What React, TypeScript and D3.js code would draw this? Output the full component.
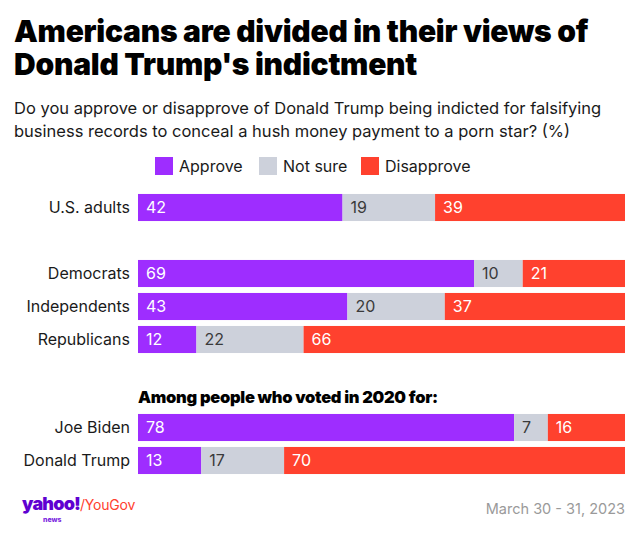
import React from "react";
import * as d3 from "d3";

const seriesNames = ["Approve", "Not sure", "Disapprove"];
const seriesColors = ["#9E2DFF", "#CDD1DB", "#FF412E"];
const labelColors = ["#FFFFFF", "#3A3A3A", "#FFFFFF"];

const group1 = ["U.S. adults", "", "Democrats", "Independents", "Republicans"];
const group2 = ["Joe Biden", "Donald Trump"];

const approve: Record<string, number> = {
  "U.S. adults": 42, Democrats: 69, Independents: 43, Republicans: 12, "Joe Biden": 78, "Donald Trump": 13,
};
const notSure: Record<string, number> = {
  "U.S. adults": 19, Democrats: 10, Independents: 20, Republicans: 22, "Joe Biden": 7, "Donald Trump": 17,
};
const disapprove: Record<string, number> = {
  "U.S. adults": 39, Democrats: 21, Independents: 37, Republicans: 66, "Joe Biden": 16, "Donald Trump": 70,
};

const W = 640, H = 534;
const X0 = 138, X1 = 625;
const FONT = "Inter, 'Noto Sans', sans-serif";

function Row({ name, y, h }: { name: string; y: number; h: number }) {
  const vals = [approve[name], notSure[name], disapprove[name]];
  const total = d3.sum(vals);
  const x = d3.scaleLinear().domain([0, total]).range([X0, X1]);
  const stack = d3.cumsum(vals);
  return (
    <g>
      <text x={130} y={y + h / 2} dy="0.35em" textAnchor="end" fontSize={16} fill="#1a1a1a" fontFamily={FONT}>
        {name}
      </text>
      {vals.map((v, i) => {
        const s = i === 0 ? 0 : stack[i - 1];
        const e = stack[i];
        return (
          <g key={i}>
            <rect x={x(s)} y={y} width={x(e) - x(s)} height={h} fill={seriesColors[i]} />
            <text x={x(s) + 8} y={y + h / 2} dy="0.36em" fontSize={16} fill={labelColors[i]} fontFamily={FONT}>
              {v}
            </text>
          </g>
        );
      })}
    </g>
  );
}

export default function App() {
  const y1 = d3.scaleBand<string>().domain(group1.map((d, i) => d || "gap" + i)).range([191, 356]).paddingInner(0.18).paddingOuter(0.09);
  const y2 = d3.scaleBand<string>().domain(group2).range([411, 477]).paddingInner(0.18).paddingOuter(0.09);
  const legendX = [155, 259, 361];
  return (
    <svg width={W} height={H} style={{ position: "absolute", left: 0, top: 0, background: "#fff" }}>
      <rect width={W} height={H} fill="#fff" />
      <text x={14} y={42} fontSize={30} fontWeight={900} fontFamily={FONT} fill="#000" letterSpacing={-0.25}>
        Americans are divided in their views of
      </text>
      <text x={14} y={75} fontSize={30} fontWeight={900} fontFamily={FONT} fill="#000" letterSpacing={-0.25}>
        Donald Trump's indictment
      </text>
      <text x={14} y={114} fontSize={16.5} fontFamily={FONT} fill="#1a1a1a">
        Do you approve or disapprove of Donald Trump being indicted for falsifying
      </text>
      <text x={14} y={137} fontSize={16.5} fontFamily={FONT} fill="#1a1a1a">
        business records to conceal a hush money payment to a porn star? (%)
      </text>
      {seriesNames.map((s, i) => (
        <g key={s}>
          <rect x={legendX[i]} y={157} width={18} height={18} fill={seriesColors[i]} />
          <text x={legendX[i] + 24} y={166} dy="0.35em" fontSize={16} fontFamily={FONT} fill="#1a1a1a">
            {s}
          </text>
        </g>
      ))}
      {group1.filter((d) => d).map((d) => (
        <Row key={d} name={d} y={y1(d)!} h={y1.bandwidth()} />
      ))}
      <text x={138} y={403} fontSize={16.5} fontWeight={900} fontFamily={FONT} fill="#000" letterSpacing={-0.3}>
        Among people who voted in 2020 for:
      </text>
      {group2.map((d) => (
        <Row key={d} name={d} y={y2(d)!} h={y2.bandwidth()} />
      ))}
      <g fontFamily={FONT}>
        <text x={22} y={510} fontSize={18} fontWeight={900} fill="#5F01D1" letterSpacing={-0.8}>
          yahoo!
        </text>
        <text x={43} y={522} fontSize={7} fontWeight={800} fill="#7B1FE0">
          news
        </text>
        <text x={80} y={510} fontSize={14} fill="#FF412E" letterSpacing={-0.2}>
          /YouGov
        </text>
      </g>
      <text x={625} y={514} textAnchor="end" fontSize={14.5} fontFamily={FONT} fill="#9a9a9a">
        March 30 - 31, 2023
      </text>
    </svg>
  );
}
